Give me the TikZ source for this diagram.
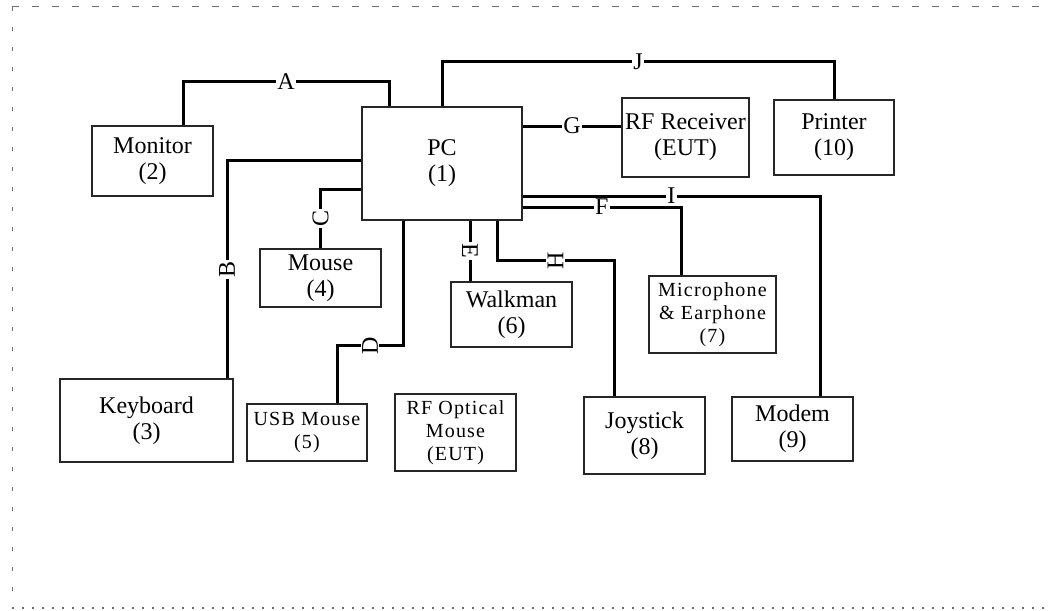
\documentclass[tikz,border=0pt]{standalone}
\usepackage{fontspec}
\setmainfont{Liberation Serif}
\newfontfamily\widefont[LetterSpace=6]{Liberation Serif}
\usepackage{xcolor}
\definecolor{fgray}{RGB}{110,110,110}

\begin{document}
\begin{tikzpicture}[x=0.5pt,y=-0.5pt,
  box/.style={draw=black!85,line width=0.6pt,align=center,inner sep=0pt,
              font=\fontsize{12}{13}\selectfont},
  small/.style={font=\widefont\fontsize{10}{11.5}\selectfont},
  link/.style={line width=1.5pt},
  lbl/.style={fill=white,inner sep=0.8pt,font=\fontsize{12}{13}\selectfont},
  rot/.style={rotate=90}
]
\useasboundingbox (0,0) rectangle (1048,610);
\draw[fgray,line width=0.5pt,dash pattern=on 3.5pt off 6.5pt] (12,7) -- (1048,7);
\draw[fgray,line width=0.5pt,dash pattern=on 2pt off 8pt] (12,7) -- (12,608);
\draw[fgray,line width=0.8pt,dash pattern=on 1.2pt off 3.8pt] (12,608) -- (1048,608);

\node[box,minimum width=80pt,minimum height=56.5pt] (pc) at (442,163.5) {PC\\(1)};
\node[box,minimum width=60.5pt,minimum height=35pt] (mon) at (152.5,161) {Monitor\\(2)};
\node[box,minimum width=86.5pt,minimum height=41.5pt] (kbd) at (146.5,420.5) {Keyboard\\(3)};
\node[box,minimum width=60.5pt,minimum height=29pt] (mouse) at (320.5,278) {Mouse\\(4)};
\node[box,small,minimum width=60pt,minimum height=28.5pt] (usb) at (307,432.5) {USB Mouse\\(5)};
\node[box,minimum width=60.5pt,minimum height=32.5pt] (wlk) at (511.5,314.5) {Walkman\\(6)};
\node[box,small,minimum width=63.5pt,minimum height=38.5pt] (mic) at (712.5,314.5) {Microphone\\\& Earphone\\(7)};
\node[box,minimum width=60.5pt,minimum height=38.5pt] (joy) at (644.5,435.5) {Joystick\\(8)};
\node[box,minimum width=60.5pt,minimum height=32pt] (mdm) at (792.5,429) {Modem\\(9)};
\node[box,minimum width=60pt,minimum height=37.5pt] (prn) at (834,137.5) {Printer\\(10)};
\node[box,minimum width=63.5pt,minimum height=39.5pt] (rfr) at (685.5,137.5) {RF Receiver\\(EUT)};
\node[box,small,minimum width=60.5pt,minimum height=38.5pt] (rfm) at (455.5,432.5) {RF Optical\\Mouse\\(EUT)};

\draw[link] ([xshift=15.25pt]mon.north) -- ++(0,-44) -| node[lbl,pos=0.25]{A} ([xshift=-26.5pt]pc.north);
\draw[link] (pc.north) -- ++(0,-45) -| node[lbl,pos=0.25]{J} (prn.north);
\draw[link] ([yshift=18.75pt]pc.east) coordinate (g0) -- node[lbl]{G} (g0 -| rfr.west);
\draw[link] ([yshift=1.75pt]pc.west) -| node[lbl,rot,pos=0.75]{B} ([xshift=40.25pt]kbd.north);
\draw[link] ([yshift=-12.75pt]pc.west) -| node[lbl,rot,pos=0.75]{C} (mouse.north);
\draw[link] ([xshift=-19.5pt]pc.south) -- ++(0,125) -| node[lbl,rot,pos=0.25]{D} ([xshift=15pt]usb.north);
\draw[link] ([xshift=14pt]pc.south) coordinate (e0) -- node[lbl,rotate=-90]{E} (e0 |- wlk.north);
\draw[link] ([xshift=27.5pt]pc.south) -- ++(0,40) -| node[lbl,rot,pos=0.25]{H} ([xshift=-15.25pt]joy.north);
\draw[link] ([yshift=-21.75pt]pc.east) -| node[lbl,pos=0.25]{F} ([xshift=-15.75pt]mic.north);
\draw[link] ([yshift=-16.25pt]pc.east) -| node[lbl,pos=0.25]{I} ([xshift=13.75pt]mdm.north);
\end{tikzpicture}
\end{document}
